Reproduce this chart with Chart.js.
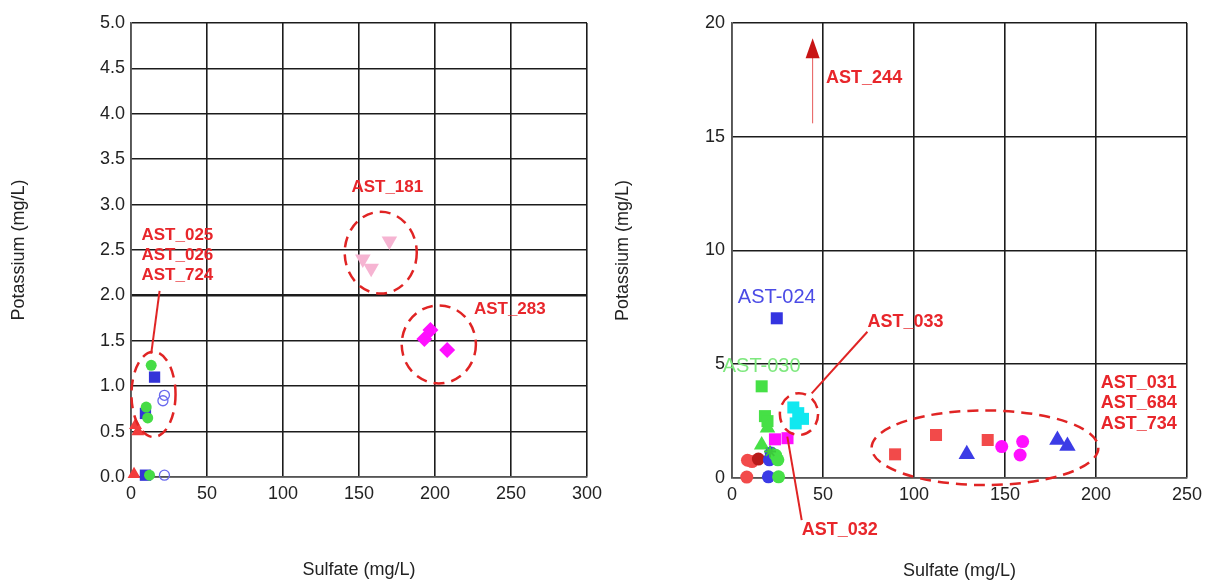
<!DOCTYPE html>
<html>
<head>
<meta charset="utf-8">
<title>Sulfate vs Potassium</title>
<script src="https://cdn.jsdelivr.net/npm/chart.js@4/dist/chart.umd.min.js"></script>
<style>
  html, body { margin: 0; padding: 0; background: #fff; }
  #wrap  { position: relative; width: 1211px; height: 582px; overflow: hidden; }
  canvas { position: absolute; top: 0; }
  #leftChart  { left: 0; }
  #rightChart { left: 610px; }
</style>
</head>
<body>
<div id="wrap">
  <canvas id="leftChart" width="610" height="582"></canvas>
  <canvas id="rightChart" width="601" height="582"></canvas>
</div>
<script>
/* ── Axes ── */
const X_TITLE = 'Sulfate (mg/L)';
const Y_TITLE = 'Potassium (mg/L)';

const LEFT_X_TICKS  = [0, 50, 100, 150, 200, 250, 300];
const LEFT_Y_TICKS  = [0, 0.5, 1, 1.5, 2, 2.5, 3, 3.5, 4, 4.5, 5];
const RIGHT_X_TICKS = [0, 50, 100, 150, 200, 250];
const RIGHT_Y_TICKS = [0, 5, 10, 15, 20];

/* ── Left panel samples [sulfate, potassium] ── */
const leftRedTriangles    = [[2, 0.03], [3, 0.57], [4.5, 0.5]];
const leftBlueSquares     = [[15.5, 1.10], [9.5, 0.70], [9.5, 0.02]];
const leftGreenCircles    = [[13.3, 1.23], [10, 0.77], [11, 0.65], [12.2, 0.02]];
const leftBlueRings       = [[22, 0.90], [21, 0.84], [22, 0.02]];
const leftPinkTriangles   = [[170, 2.60], [152.5, 2.40], [158, 2.30]];
const leftMagentaDiamonds = [[197, 1.62], [193, 1.52], [208, 1.40]];

/* ── Right panel samples [sulfate, potassium] ── */
const rightBlueSquares     = [[24.6, 7.02]];
const rightGreenSquares    = [[16.3, 4.03], [18.1, 2.72], [19.5, 2.5]];
const rightGreenTriangles  = [[19.5, 2.2], [16.3, 1.45]];
const rightGreenStars      = [[20.9, 1.16]];
const rightCyanSquares     = [[33.7, 3.1], [36.4, 2.85], [39, 2.6], [35, 2.4]];
const rightMagentaSquares  = [[23.6, 1.70], [30.5, 1.75]];
const rightRedCircles      = [[8.5, 0.78], [11, 0.72], [8.1, 0.04]];
const rightDarkRedCircles  = [[14.5, 0.83]];
const rightBlueCircles     = [[21.5, 1.1], [20.5, 0.8], [20, 0.05]];
const rightGreenCircles    = [[24, 1.0], [25.2, 0.8], [25.6, 0.05]];
const rightRedSquares      = [[89.6, 1.04], [112.1, 1.89], [140.5, 1.67]];
const rightBlueTriangles   = [[129, 1.04], [178.8, 1.67], [184.3, 1.41]];
const rightMagentaCircles  = [[148.2, 1.38], [159.7, 1.6], [158.3, 1.01]];

/* ── Look ── */
const FONT     = 'Arial, "Liberation Sans", sans-serif';
const INK      = '#222';
const GRID     = '#1c1c1c';
const RED_TXT  = '#e8262b';
const RED_LINE = '#e02424';

/* ── Helpers ── */
const pts = list => list.map(([x, y]) => ({ x, y }));

function series(list, shape, color, r, extra) {
  return Object.assign({
    data: pts(list),
    pointStyle: shape,
    pointRadius: r,
    pointHoverRadius: r,
    backgroundColor: color,
    borderColor: color,
    borderWidth: 0,
    clip: false,
  }, extra || {});
}

function axes(xTicks, yTicks, yFmt, area, size, heavyY, xTitlePad, yTitlePad, yTickPad) {
  const tickFont = { family: FONT, size: 18 };
  const titleFont = { family: FONT, size: 18 };
  return {
    x: {
      type: 'linear',
      min: xTicks[0], max: xTicks[xTicks.length - 1],
      afterBuildTicks: s => { s.ticks = xTicks.map(value => ({ value })); },
      afterFit: s => { s.height = size.h - area.bottom; },
      grid: { color: GRID, lineWidth: 1.6, drawTicks: false },
      border: { color: '#555', width: 1.6 },
      ticks: { color: INK, font: tickFont, padding: 6, maxRotation: 0, autoSkip: false },
      title: { display: true, text: X_TITLE, color: INK, font: titleFont, padding: { top: 0, bottom: xTitlePad } },
    },
    y: {
      type: 'linear',
      min: yTicks[0], max: yTicks[yTicks.length - 1],
      afterBuildTicks: s => { s.ticks = yTicks.map(value => ({ value })); },
      afterFit: s => { s.width = area.left; },
      grid: {
        color: GRID, drawTicks: false,
        lineWidth: c => (c.tick && c.tick.value === heavyY ? 2.6 : 1.6),
      },
      border: { color: '#555', width: 1.6 },
      ticks: { color: INK, font: tickFont, padding: yTickPad, autoSkip: false, callback: yFmt },
      title: { display: true, text: Y_TITLE, color: INK, font: titleFont, padding: { top: yTitlePad, bottom: 0 } },
    },
  };
}

/* rings, leader lines, arrows and sample labels, placed in data units */
const annotate = {
  id: 'annotate',
  afterDraw(chart, args, opts) {
    const { ctx, scales: { x, y } } = chart;
    const X = v => x.getPixelForValue(v);
    const Y = v => y.getPixelForValue(v);
    ctx.save();

    ctx.strokeStyle = RED_LINE;
    ctx.lineWidth = 2.5;
    ctx.setLineDash([11, 7]);
    (opts.rings || []).forEach(([cx, cy, rx, ry]) => {
      ctx.beginPath();
      ctx.ellipse(X(cx), Y(cy), X(cx + rx) - X(cx), Y(cy) - Y(cy + ry), 0, 0, Math.PI * 2);
      ctx.stroke();
    });
    ctx.setLineDash([]);

    ctx.lineWidth = 2;
    (opts.leaders || []).forEach(([x0, y0, x1, y1]) => {
      ctx.beginPath();
      ctx.moveTo(X(x0), Y(y0));
      ctx.lineTo(X(x1), Y(y1));
      ctx.stroke();
    });

    (opts.arrows || []).forEach(([ax, y0, y1]) => {
      const px = X(ax), top = Y(y1), head = 20, half = 7;
      ctx.strokeStyle = '#e65a5a';
      ctx.lineWidth = 1;
      ctx.beginPath();
      ctx.moveTo(px, Y(y0));
      ctx.lineTo(px, top + head - 2);
      ctx.stroke();
      ctx.fillStyle = '#c81414';
      ctx.beginPath();
      ctx.moveTo(px, top);
      ctx.lineTo(px - half, top + head);
      ctx.lineTo(px + half, top + head);
      ctx.closePath();
      ctx.fill();
    });

    ctx.textBaseline = 'middle';
    (opts.labels || []).forEach(l => {
      ctx.font = l.font;
      ctx.fillStyle = l.color;
      ctx.textAlign = l.align || 'left';
      ctx.fillText(l.text, X(l.x), Y(l.y));
    });
    ctx.restore();
  },
};

function redLabel(text, x, y, size) {
  return { text, x, y, font: `bold ${size}px ${FONT}`, color: RED_TXT };
}

/* ── Left chart (first dataset is drawn on top) ── */
const LEFT_AREA = { left: 131, top: 23, right: 587, bottom: 477 };
const LEFT_SIZE = { w: 610, h: 582 };

new Chart(document.getElementById('leftChart'), {
  type: 'scatter',
  plugins: [annotate],
  data: {
    datasets: [
      series(leftGreenCircles, 'circle', '#46dc46', 5.5),
      series(leftBlueSquares, 'rect', '#3434d8', 8),
      series(leftRedTriangles, 'triangle', '#f23c3c', 7.5),
      series(leftBlueRings, 'circle', 'rgba(0,0,0,0)', 5, { borderColor: '#6a6aee', borderWidth: 1.3 }),
      series(leftPinkTriangles, 'triangle', '#f6b4d2', 9, { rotation: 180 }),
      series(leftMagentaDiamonds, 'rectRot', '#ff10ff', 8),
    ],
  },
  options: {
    responsive: false,
    animation: false,
    events: [],
    layout: { padding: { top: LEFT_AREA.top, right: LEFT_SIZE.w - LEFT_AREA.right, left: 0, bottom: 0 } },
    scales: axes(LEFT_X_TICKS, LEFT_Y_TICKS, v => v.toFixed(1), LEFT_AREA, LEFT_SIZE, 2, 1, 8, 6),
    plugins: {
      legend: { display: false },
      tooltip: { enabled: false },
      annotate: {
        rings: [
          [14.8, 0.91, 14.5, 0.47],
          [164.3, 2.47, 23.7, 0.45],
          [202.5, 1.46, 24.4, 0.43],
        ],
        leaders: [[13.3, 1.36, 18.8, 2.05]],
        labels: [
          redLabel('AST_025', 6.9, 2.66, 17),
          redLabel('AST_026', 6.9, 2.44, 17),
          redLabel('AST_724', 6.9, 2.22, 17),
          redLabel('AST_181', 145, 3.19, 17),
          redLabel('AST_283', 225.6, 1.85, 17),
        ],
      },
    },
  },
});

/* ── Right chart (first dataset is drawn on top) ── */
const RIGHT_AREA = { left: 122, top: 23, right: 577, bottom: 478 };
const RIGHT_SIZE = { w: 601, h: 582 };

new Chart(document.getElementById('rightChart'), {
  type: 'scatter',
  plugins: [annotate],
  data: {
    datasets: [
      series(rightMagentaCircles, 'circle', '#ff10ff', 6.5),
      series(rightBlueTriangles, 'triangle', '#3c3ce6', 9.5),
      series(rightRedSquares, 'rect', '#f24a4a', 8.5),
      series(rightBlueSquares, 'rect', '#3434e0', 8.5),
      series(rightCyanSquares, 'rect', '#10e8f0', 8.5),
      series(rightMagentaSquares, 'rect', '#ff10ff', 8.5),
      series(rightGreenStars, 'star', '#3cc83c', 6, { borderWidth: 2 }),
      series(rightGreenCircles, 'circle', '#46e046', 6.5),
      series(rightBlueCircles, 'circle', '#3c3ce6', 6.5),
      series(rightGreenTriangles, 'triangle', '#46e046', 9),
      series(rightGreenSquares, 'rect', '#46e046', 8.5),
      series(rightDarkRedCircles, 'circle', '#b81a1a', 6.5),
      series(rightRedCircles, 'circle', '#f24a4a', 6.5),
    ],
  },
  options: {
    responsive: false,
    animation: false,
    events: [],
    layout: { padding: { top: RIGHT_AREA.top, right: RIGHT_SIZE.w - RIGHT_AREA.right, left: 0, bottom: 0 } },
    scales: axes(RIGHT_X_TICKS, RIGHT_Y_TICKS, v => String(v), RIGHT_AREA, RIGHT_SIZE, null, 0, 2, 7),
    plugins: {
      legend: { display: false },
      tooltip: { enabled: false },
      annotate: {
        rings: [
          [36.8, 2.81, 10.5, 0.92],
          [139, 1.33, 62.3, 1.64],
        ],
        leaders: [
          [43.8, 3.72, 74.4, 6.43],
          [30.4, 1.82, 38.3, -1.85],
        ],
        arrows: [[44.3, 15.59, 19.33]],
        labels: [
          redLabel('AST_244', 51.7, 17.57, 18),
          redLabel('AST_033', 74.4, 6.87, 18),
          redLabel('AST_032', 38.3, -2.29, 18),
          redLabel('AST_031', 202.6, 4.19, 18),
          redLabel('AST_684', 202.6, 3.28, 18),
          redLabel('AST_734', 202.6, 2.37, 18),
          { text: 'AST-024', x: 24.6, y: 7.93, font: `20px ${FONT}`, color: '#4b4be6', align: 'center' },
          { text: 'AST-030', x: 16.3, y: 4.92, font: `20px ${FONT}`, color: '#7ee87e', align: 'center' },
        ],
      },
    },
  },
});
</script>
</body>
</html>
